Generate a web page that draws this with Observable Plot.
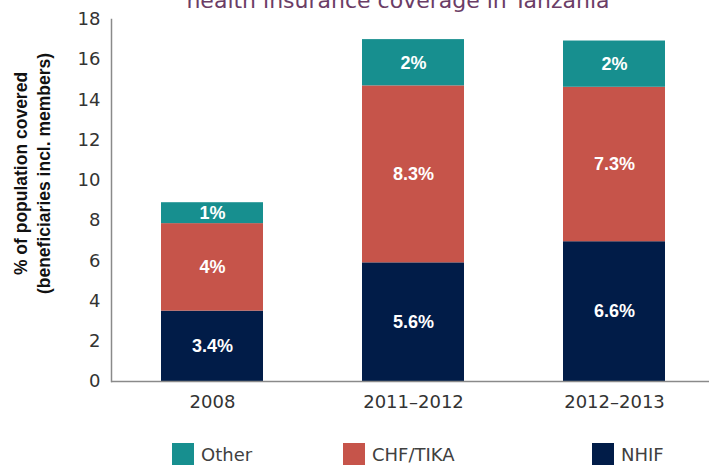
<!DOCTYPE html>
<html>
<head>
<meta charset="utf-8">
<script src="https://cdn.jsdelivr.net/npm/d3@7"></script>
<script src="https://cdn.jsdelivr.net/npm/@observablehq/plot@0.6"></script>
<style>
  body { margin: 0; background: #fff; }
  #wrap { position: relative; width: 709px; height: 466px; overflow: hidden; background: #fff; font-family: "DejaVu Sans", sans-serif; }
  #title { position: absolute; z-index: 2; left: 0; width: 796px; top: -11px; text-align: center; font-size: 22px; line-height: 24px; color: #6b3d66; white-space: nowrap; }
  #chart { position: absolute; z-index: 1; left: 0; top: 0; }
  .item { position: absolute; top: 443px; display: flex; align-items: center; font-size: 18px; color: #404040; white-space: nowrap; }
  .sw { width: 22px; height: 22px; margin-right: 7px; }
</style>
</head>
<body>
<div id="wrap">
  <div id="chart"></div>
  <div id="title">health insurance coverage in Tanzania</div>
  <div id="legend"></div>
</div>
<script>
// ---- data ----
const years = ["2008", "2011–2012", "2012–2013"];
const series = ["NHIF", "CHF/TIKA", "Other"];
const nhif = [3.5, 5.9, 6.95];
const chf = [4.35, 8.8, 7.68];
const other = [1.04, 2.3, 2.3];
const nhifLabels = ["3.4%", "5.6%", "6.6%"];
const chfLabels = ["4%", "8.3%", "7.3%"];
const otherLabels = ["1%", "2%", "2%"];
const colors = ["#011C48", "#C6544A", "#178F8F"];
const yTicks = [0, 2, 4, 6, 8, 10, 12, 14, 16, 18];
const legendOrder = ["Other", "CHF/TIKA", "NHIF"];

// ---- table ----
const values = [nhif, chf, other];
const labels = [nhifLabels, chfLabels, otherLabels];
const rows = [];
years.forEach((yr, i) => {
  series.forEach((s, j) => {
    rows.push({ year: yr, series: s, value: values[j][i], label: labels[j][i] });
  });
});

// ---- layout (not data) ----
const legendLeft = { "Other": 172, "CHF/TIKA": 343, "NHIF": 592 };

const chart = Plot.plot({
  width: 709,
  height: 420,
  marginTop: 19,
  marginBottom: 39,
  marginLeft: 111,
  marginRight: 0,
  style: { fontFamily: "DejaVu Sans", background: "transparent", overflow: "visible" },
  x: { domain: years, range: [111, 714], paddingInner: 0.493, paddingOuter: 0.2465, label: null },
  y: { domain: [0, 18], label: null },
  color: { domain: series, range: colors },
  marks: [
    Plot.barY(rows, { x: "year", y: "value", fill: "series" }),
    Plot.text(rows, Plot.stackY({
      x: "year", y: "value", text: "label",
      fill: "white", fontSize: 18, fontWeight: "bold", fontFamily: "Liberation Sans"
    })),
    Plot.ruleY([0], { stroke: "#8a8a8a", strokeWidth: 1.5 }),
    Plot.frame({ anchor: "left", stroke: "#8a8a8a", strokeWidth: 1.5 }),
    Plot.axisY({ ticks: yTicks, tickSize: 0, tickPadding: 11, fontSize: 18, fill: "#333", label: null }),
    Plot.axisX({ tickSize: 0, tickPadding: 14, fontSize: 18, fill: "#333", label: null }),
    Plot.text(["% of population covered\n(beneficiaries incl. members)"], {
      text: d => d, frameAnchor: "left", textAnchor: "middle", lineAnchor: "middle",
      rotate: -90, dx: -80, dy: -27, fontSize: 17.5, fontWeight: "bold",
      fill: "#111", lineHeight: 1.3, fontFamily: "Liberation Sans"
    })
  ]
});
document.getElementById("chart").appendChild(chart);

// ---- legend ----
const legend = document.getElementById("legend");
legendOrder.forEach(s => {
  const item = document.createElement("div");
  item.className = "item";
  item.style.left = legendLeft[s] + "px";
  const sw = document.createElement("div");
  sw.className = "sw";
  sw.style.background = colors[series.indexOf(s)];
  const tx = document.createElement("span");
  tx.textContent = s;
  item.appendChild(sw);
  item.appendChild(tx);
  legend.appendChild(item);
});
</script>
</body>
</html>
